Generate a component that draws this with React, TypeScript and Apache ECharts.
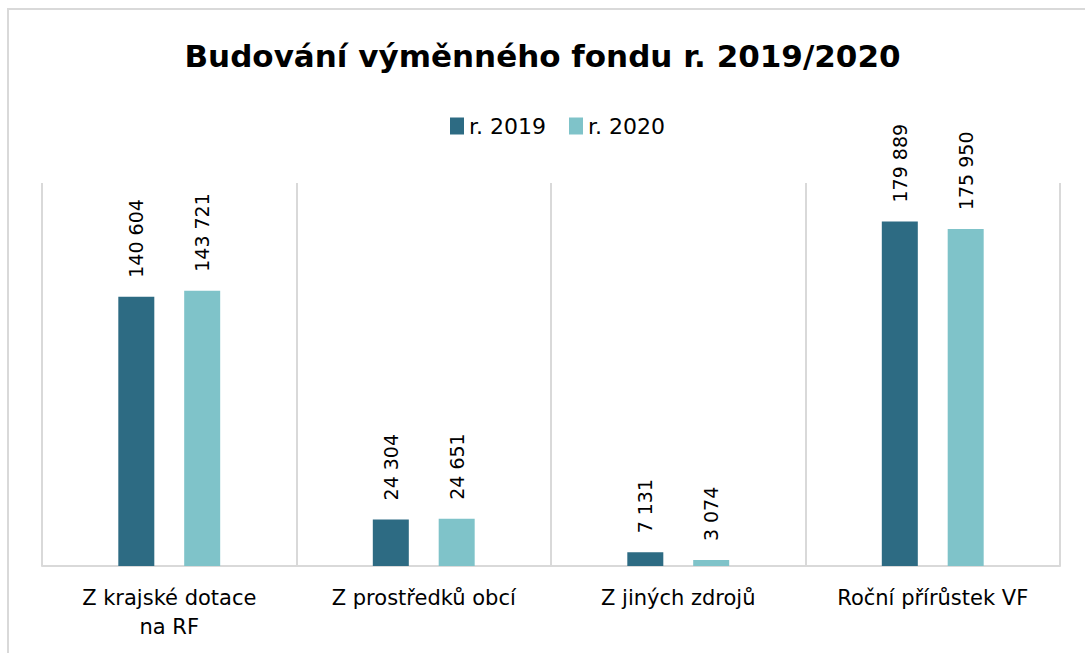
import React, { useEffect, useRef } from "react";
import * as echarts from "echarts";

const categories = ["Z krajské dotace\nna RF", "Z prostředků obcí", "Z jiných zdrojů", "Roční přírůstek VF"];
const seriesNames = ["r. 2019", "r. 2020"];
const values2019 = [140604, 24304, 7131, 179889];
const values2020 = [143721, 24651, 3074, 175950];
const titleText = "Budování výměnného fondu r. 2019/2020";

const COLORS = ["#2D6B83", "#7FC3C9"];
const FONT = "DejaVu Sans";

const fmt = (v: number) => String(v).replace(/\B(?=(\d{3})+(?!\d))/g, " ");

export default function App() {
  const ref = useRef<HTMLDivElement>(null);
  useEffect(() => {
    document.body.style.margin = "0";
    const chart = echarts.init(ref.current!, null, { renderer: "svg" });
    const label = {
      show: true,
      position: "top",
      rotate: 90,
      align: "left",
      verticalAlign: "middle",
      distance: 19,
      fontFamily: FONT,
      fontSize: 19,
      color: "#000",
      formatter: (p: any) => fmt(p.value),
    };
    chart.setOption({
      animation: false,
      backgroundColor: "#fff",
      graphic: [
        {
          type: "rect",
          shape: { x: 8, y: 9, width: 1200, height: 800 },
          style: { fill: "none", stroke: "#D9D9D9", lineWidth: 2 },
          silent: true,
        },
      ],
      title: {
        text: titleText,
        left: "center",
        top: 35,
        textStyle: { fontFamily: FONT, fontSize: 31, fontWeight: "bold", color: "#000" },
      },
      legend: {
        data: seriesNames,
        top: 110,
        left: 445,
        itemWidth: 14,
        itemHeight: 17,
        itemGap: 23,
        icon: "rect",
        textStyle: { fontFamily: FONT, fontSize: 22, color: "#000" },
      },
      grid: { left: 42, right: 25, top: 183, bottom: 87, containLabel: false },
      xAxis: {
        type: "category",
        data: categories,
        axisLine: { show: true, lineStyle: { color: "#D9D9D9", width: 2 } },
        axisTick: { show: false },
        splitLine: { show: true, lineStyle: { color: "#D9D9D9", width: 2 } },
        axisLabel: {
          fontFamily: FONT,
          fontSize: 21,
          color: "#000",
          lineHeight: 29,
          margin: 17,
          interval: 0,
        },
      },
      yAxis: {
        type: "value",
        min: 0,
        max: 200000,
        show: false,
        splitLine: { show: false },
      },
      series: [
        {
          name: seriesNames[0],
          type: "bar",
          data: values2019,
          barWidth: 36,
          barGap: "83%",
          itemStyle: { color: COLORS[0] },
          label,
        },
        {
          name: seriesNames[1],
          type: "bar",
          data: values2020,
          barWidth: 36,
          barGap: "83%",
          itemStyle: { color: COLORS[1] },
          label,
        },
      ],
    });
    return () => chart.dispose();
  }, []);
  return <div ref={ref} style={{ width: 1085, height: 653 }} />;
}
